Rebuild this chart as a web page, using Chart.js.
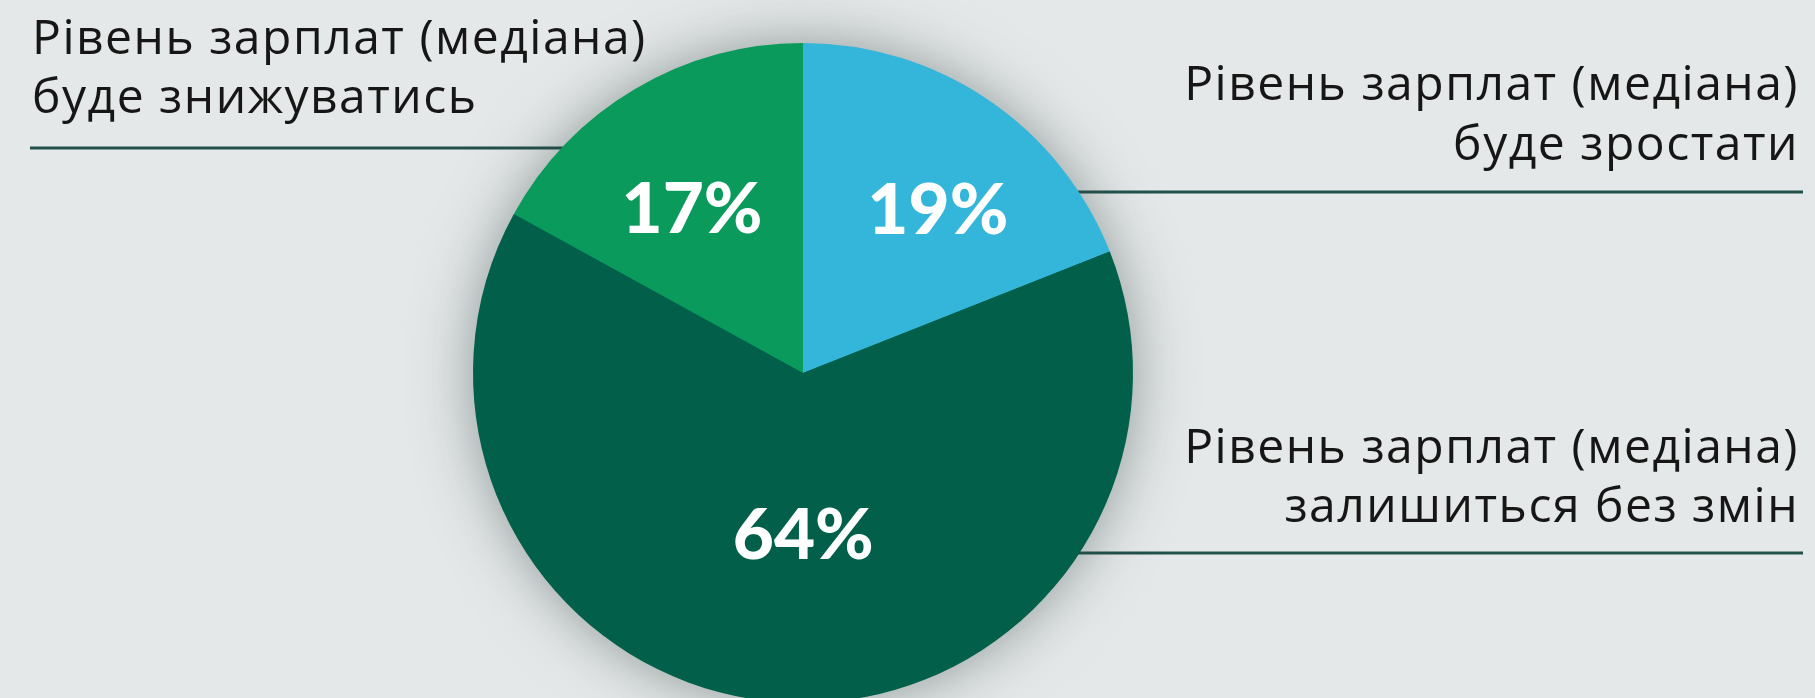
<!DOCTYPE html>
<html lang="uk">
<head>
<meta charset="utf-8">
<title>Рівень зарплат (медіана)</title>
<script src="https://cdn.jsdelivr.net/npm/chart.js@4.4.1/dist/chart.umd.min.js"></script>
<style>
  html, body { margin: 0; padding: 0; background: #e5e8e8; overflow: hidden; }
  #wrap { position: relative; width: 1815px; height: 698px; overflow: hidden; }
  #pie { position: absolute; left: 0; top: 0; }
</style>
</head>
<body>
<div id="wrap">
  <canvas id="pie" width="1815" height="760"></canvas>
</div>
<script>
// Data
const categories = [
    ['Рівень зарплат (медіана)', 'буде зростати'],
    ['Рівень зарплат (медіана)', 'залишиться без змін'],
    ['Рівень зарплат (медіана)', 'буде знижуватись'],
];
const shares = [19, 64, 17];
const sliceColors = ['#33b6da', '#02604a', '#099a5c'];

// where the callouts and the % labels go (same order as categories)
const callouts = [
    { x: 1799, align: 'right', y1: 100, y2: 160, ruleY: 192 },
    { x: 1799, align: 'right', y1: 463, y2: 522, ruleY: 553 },
    { x: 32,   align: 'left',  y1: 54,  y2: 113, ruleY: 148 },
];
const pctSpot = [
    { along: 0.575, r: 0.645 },
    { along: 0.484, r: 0.485 },
    { along: 0.448, r: 0.605 },
];

const calloutPlugin = {
    id: 'callouts',
    beforeDatasetsDraw(chart) {
        const ctx = chart.ctx;
        const arc0 = chart.getDatasetMeta(0).data[0];
        const { x, y, outerRadius } = arc0.getProps(['x', 'y', 'outerRadius'], true);
        ctx.save();
        // rules, running in under the pie
        ctx.strokeStyle = '#22504b';
        ctx.lineWidth = 3;
        callouts.forEach(c => {
            ctx.beginPath();
            if (c.align === 'left') {
                ctx.moveTo(30, c.ruleY);
                ctx.lineTo(x, c.ruleY);
            } else {
                ctx.moveTo(x, c.ruleY);
                ctx.lineTo(1803, c.ruleY);
            }
            ctx.stroke();
        });
        // soft shadow round the pie
        ctx.shadowColor = 'rgba(50, 70, 70, 0.5)';
        ctx.shadowBlur = 60;
        ctx.fillStyle = sliceColors[1];
        ctx.beginPath();
        ctx.arc(x, y, outerRadius - 1, 0, Math.PI * 2);
        ctx.fill();
        ctx.restore();
    },
    afterDatasetsDraw(chart) {
        const ctx = chart.ctx;
        const meta = chart.getDatasetMeta(0);
        ctx.save();
        // percentages
        ctx.fillStyle = '#ffffff';
        ctx.font = '900 71px Lato, "DejaVu Sans", sans-serif';
        ctx.textAlign = 'center';
        ctx.textBaseline = 'alphabetic';
        meta.data.forEach((arc, i) => {
            const p = arc.getProps(['x', 'y', 'startAngle', 'endAngle', 'outerRadius'], true);
            const a = p.startAngle + (p.endAngle - p.startAngle) * pctSpot[i].along;
            const r = p.outerRadius * pctSpot[i].r;
            ctx.fillText(shares[i] + '%', p.x + Math.cos(a) * r, p.y + Math.sin(a) * r + 26);
        });
        // callout texts
        ctx.fillStyle = '#161616';
        ctx.font = '400 48px "Open Sans", "Noto Sans", sans-serif';
        ctx.letterSpacing = '1.5px';
        categories.forEach((lines, i) => {
            const c = callouts[i];
            ctx.textAlign = c.align;
            ctx.fillText(lines[0], c.x, c.y1);
            ctx.fillText(lines[1], c.x, c.y2);
        });
        ctx.restore();
    }
};

const ctx = document.getElementById('pie').getContext('2d');
const pieChart = new Chart(ctx, {
    type: 'pie',
    data: {
        labels: categories,
        datasets: [{
            data: shares,
            backgroundColor: sliceColors,
            borderWidth: 0,
        }]
    },
    options: {
        responsive: false,
        animation: false,
        layout: {
            padding: { left: 473, right: 682, top: 43, bottom: 57 }
        },
        plugins: {
            legend: { display: false },
            tooltip: { enabled: false },
        },
    },
    plugins: [calloutPlugin],
});
</script>
</body>
</html>
